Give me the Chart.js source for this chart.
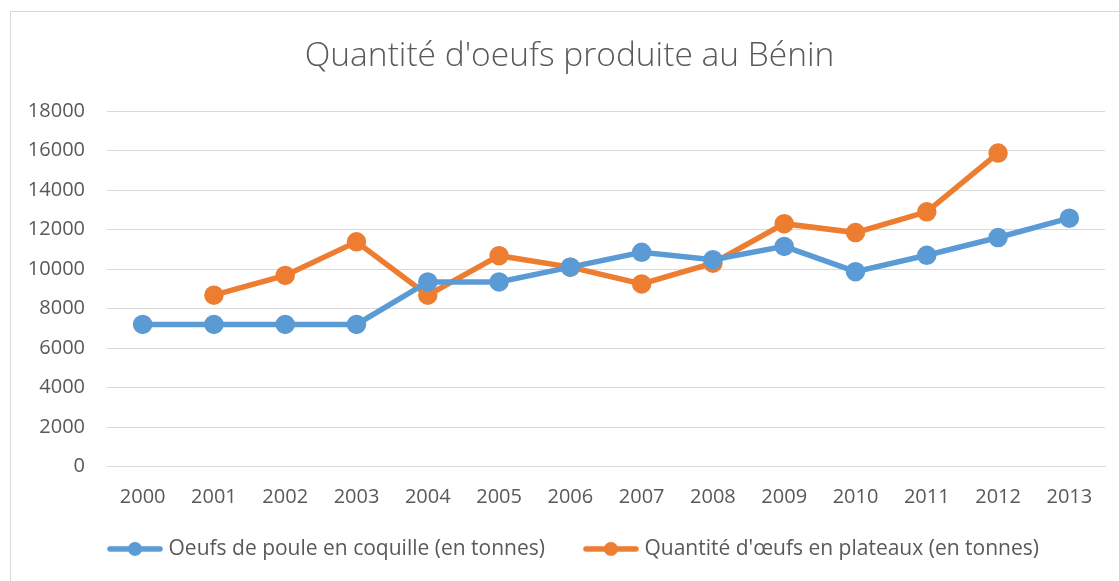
<!DOCTYPE html>
<html>
<head>
<meta charset="utf-8">
<script src="https://cdn.jsdelivr.net/npm/chart.js@4/dist/chart.umd.min.js"></script>
<style>
html,body{margin:0;padding:0;background:#fff;}
#frame{position:absolute;left:10px;top:11px;width:1120px;height:580px;border:1px solid #d9d9d9;box-sizing:border-box;}
#wrap{position:absolute;left:0;top:0;width:1119px;height:581px;}
</style>
</head>
<body>
<div id="frame"></div>
<div id="wrap"><canvas id="c" width="1119" height="581"></canvas></div>
<script>
const years = ['2000','2001','2002','2003','2004','2005','2006','2007','2008','2009','2010','2011','2012','2013'];
const coquille = [7200, 7200, 7200, 7200, 9350, 9350, 10100, 10850, 10480, 11150, 9870, 10700, 11600, 12580];
const plateaux = [null, 8680, 9680, 11380, 8680, 10680, 10100, 9250, 10300, 12300, 11850, 12900, 15880, null];
const yTicks = [0, 2000, 4000, 6000, 8000, 10000, 12000, 14000, 16000, 18000];
const seriesNames = ['Oeufs de poule en coquille (en tonnes)', "Quantité d'œufs en plateaux (en tonnes)"];
const colors = ['#5b9bd5', '#ed7d31'];
const FONT = '"Open Sans", Lato, sans-serif';

function legendMarker(color){
  const cv = document.createElement('canvas');
  cv.width = 56; cv.height = 16;
  const g = cv.getContext('2d');
  g.strokeStyle = color; g.lineWidth = 5.5; g.lineCap = 'round';
  g.beginPath(); g.moveTo(3, 8); g.lineTo(53, 8); g.stroke();
  g.fillStyle = color; g.beginPath(); g.arc(28, 8, 7, 0, Math.PI*2); g.fill();
  return cv;
}
const markers = colors.map(legendMarker);

const LEG_PAD = 43;
const boxShift = {
  id: 'boxShift',
  afterLayout(chart) {
    const lg = chart.legend;
    if (lg) {
      const w = lg.right - lg.left, h = lg.bottom - lg.top;
      lg.left = 107 - LEG_PAD + 5;
      lg.right = lg.left + w;
      lg.top = 551 - LEG_PAD - 12.6;
      lg.bottom = lg.top + h;
    }
    const tb = chart.titleBlock;
    if (tb) { tb.left += 17; tb.right += 17; }
  }
};

new Chart(document.getElementById('c'), {
  type: 'line',
  data: {
    labels: years,
    datasets: [
      {label: seriesNames[0], data: coquille, borderColor: colors[0], backgroundColor: colors[0],
       borderWidth: 5.5, pointRadius: 7, pointHoverRadius: 7, tension: 0},
      {label: seriesNames[1], data: plateaux, borderColor: colors[1], backgroundColor: colors[1],
       borderWidth: 5.5, pointRadius: 7, pointHoverRadius: 7, tension: 0, spanGaps: false}
    ]
  },
  plugins: [boxShift],
  options: {
    responsive: false,
    animation: false,
    layout: {padding: {left: 0, right: 14, top: 0, bottom: 0}},
    plugins: {
      title: {display: true, text: "Quantité d'oeufs produite au Bénin", color: '#595959',
        font: {family: FONT, size: 33.5, weight: '300'}, padding: {top: 36, bottom: 35}},
      legend: {display: true, position: 'bottom', align: 'start',
        labels: {color: '#595959', font: {family: FONT, size: 21}, usePointStyle: true, pointStyleWidth: 46,
          padding: LEG_PAD,
          generateLabels: (chart) => chart.data.datasets.map((ds, i) => ({
            text: ds.label, pointStyle: markers[i], fillStyle: colors[i], strokeStyle: colors[i],
            lineWidth: 0, hidden: false, datasetIndex: i, fontColor: '#595959'}))
        }},
      tooltip: {enabled: false}
    },
    scales: {
      x: {
        offset: true,
        grid: {display: false},
        border: {display: true, color: '#d9d9d9', width: 1},
        ticks: {color: '#595959', font: {family: FONT, size: 20}, padding: 11, maxRotation: 0},
        afterFit: (s) => { s.height = 40.5; }
      },
      y: {
        min: 0, max: 18000,
        afterBuildTicks: (s) => { s.ticks = yTicks.map(v => ({value: v})); },
        grid: {color: '#d9d9d9', lineWidth: 1, drawTicks: false},
        border: {display: false},
        ticks: {color: '#595959', font: {family: FONT, size: 20}, padding: 22, callback: (v) => String(v)},
        afterFit: (s) => { s.width = 107; }
      }
    }
  }
});
</script>
</body>
</html>
